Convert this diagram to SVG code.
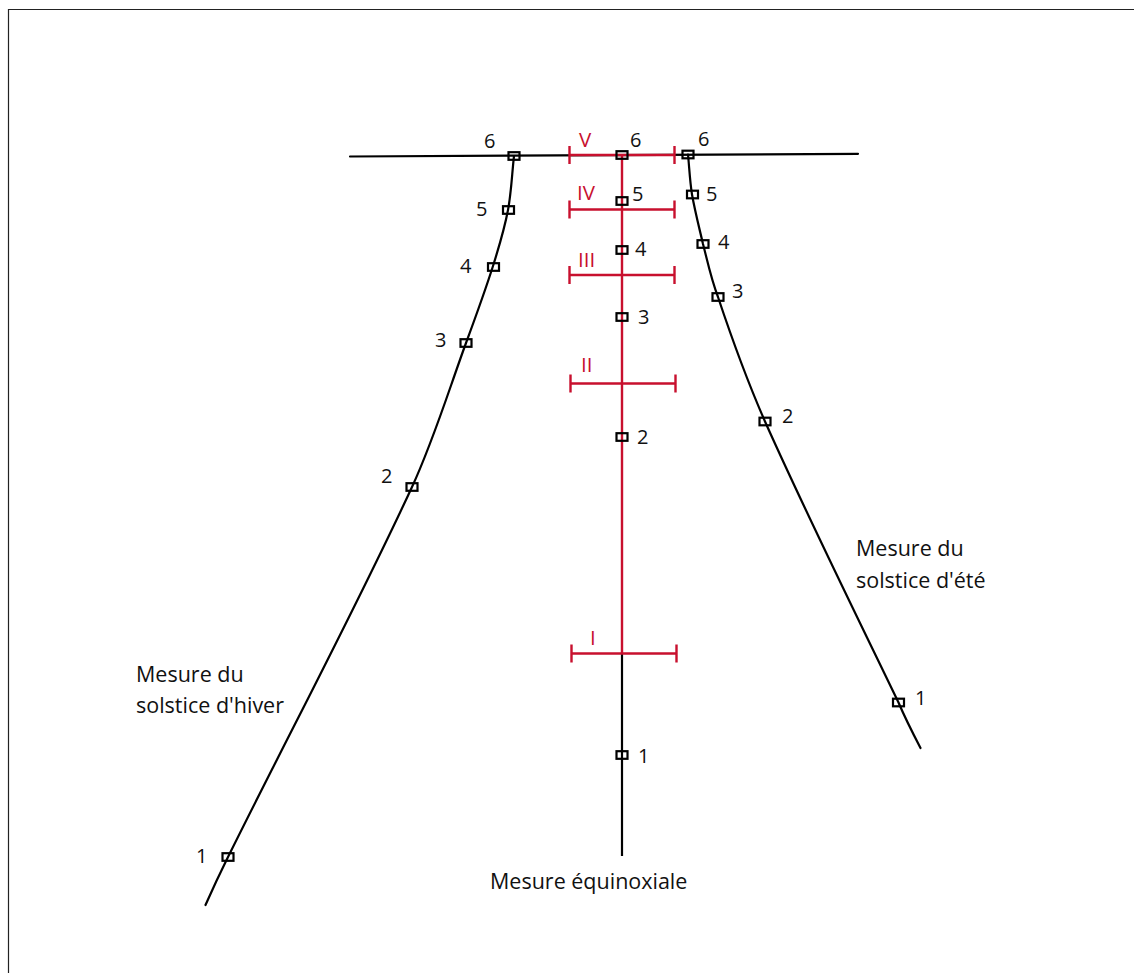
<svg xmlns="http://www.w3.org/2000/svg" width="1134" height="973" viewBox="0 0 1134 973">
<style>
.ln{fill:none;stroke:#000;stroke-width:2.2;stroke-linecap:round}
.rd{fill:none;stroke:#c8102e;stroke-width:2.4}
.sq{fill:none;stroke:#000;stroke-width:2.2}
.t{font-family:"Open Sans","Liberation Sans",sans-serif;font-size:20px;fill:#111}
.lb{font-family:"Open Sans","Liberation Sans",sans-serif;font-size:21.5px;fill:#111}
.rn{font-family:"Open Sans","Liberation Sans",sans-serif;font-size:20.5px;fill:#c8102e}
</style>
<defs>
<rect id="sq" x="-5.5" y="-3.8" width="11" height="7.6" class="sq"/>
<path id="bar" d="M-52.5,0 H52.5 M-52.5,-9 V9 M52.5,-9 V9" class="rd"/>
</defs>
<rect width="1134" height="973" fill="#fff"/>
<path d="M8.5,973 V9.5 H1134" fill="none" stroke="#222" stroke-width="1.2"/>
<g id="connectors">
<path class="ln" d="M350,156.5 L858,153.8"/>
<path class="ln" d="M514,156 C512,173.3 511.4,191.9 508,210 C504.4,229 498.8,247.6 493,266 C484.8,291.9 475.4,317.5 466,343 C448.4,391.2 433.5,440.5 412,487 C354.2,611.9 289.1,733.6 228,857 C220.1,872.9 212.6,889 205.5,905"/>
<path class="ln" d="M688,154.5 C689.3,167.3 689.8,180.8 692,194.5 C694.8,210.5 699,226.8 703,244 C707.4,260.8 711,278.7 718,297 C731.7,338.1 746.9,380.2 765,421.5 C807.2,516 853.5,609.1 898.5,702.5 C905.1,718.1 912.7,733 920.5,748"/>
<path class="rd" d="M622,155 V653.5"/>
<path class="ln" d="M622,653.5 V856" style="stroke-linecap:butt"/>
<use href="#bar" x="622" y="155"/>
<use href="#bar" x="622" y="209.5"/>
<use href="#bar" x="622" y="275"/>
<use href="#bar" x="623" y="383.5"/>
<use href="#bar" x="624" y="653.5"/>
</g>
<g id="center-nodes">
<g id="c6"><use href="#sq" x="622" y="155"/><text class="t" x="630" y="147">6</text></g>
<g id="c5"><use href="#sq" x="622" y="201"/><text class="t" x="632" y="201">5</text></g>
<g id="c4"><use href="#sq" x="622" y="250"/><text class="t" x="635" y="256">4</text></g>
<g id="c3"><use href="#sq" x="622" y="317"/><text class="t" x="638" y="324">3</text></g>
<g id="c2"><use href="#sq" x="622" y="437"/><text class="t" x="637" y="444">2</text></g>
<g id="c1"><use href="#sq" x="622" y="755"/><text class="t" x="638" y="763">1</text></g>
</g>
<g id="left-nodes">
<g id="l6"><use href="#sq" x="514" y="156"/><text class="t" x="484" y="148">6</text></g>
<g id="l5"><use href="#sq" x="508.5" y="210"/><text class="t" x="476" y="216">5</text></g>
<g id="l4"><use href="#sq" x="493.5" y="267"/><text class="t" x="460" y="273">4</text></g>
<g id="l3"><use href="#sq" x="466" y="343"/><text class="t" x="435" y="347">3</text></g>
<g id="l2"><use href="#sq" x="412" y="487"/><text class="t" x="381" y="483">2</text></g>
<g id="l1"><use href="#sq" x="228" y="857"/><text class="t" x="196" y="863">1</text></g>
</g>
<g id="right-nodes">
<g id="r6"><use href="#sq" x="688" y="154.5"/><text class="t" x="698" y="146">6</text></g>
<g id="r5"><use href="#sq" x="692.5" y="194.5"/><text class="t" x="706" y="201">5</text></g>
<g id="r4"><use href="#sq" x="703" y="244"/><text class="t" x="718" y="249">4</text></g>
<g id="r3"><use href="#sq" x="718" y="297"/><text class="t" x="732" y="298">3</text></g>
<g id="r2"><use href="#sq" x="765" y="421.5"/><text class="t" x="782" y="423">2</text></g>
<g id="r1"><use href="#sq" x="898.5" y="702.5"/><text class="t" x="915" y="705">1</text></g>
</g>
<g id="roman-labels">
<text class="rn" x="579" y="147">V</text>
<text class="rn" x="577" y="200">IV</text>
<text class="rn" x="578" y="267">III</text>
<text class="rn" x="581" y="372">II</text>
<text class="rn" x="590" y="645">I</text>
</g>
<g id="captions">
<text class="lb" x="136" y="682">Mesure du</text>
<text class="lb" x="136" y="713">solstice d'hiver</text>
<text class="lb" x="856" y="556">Mesure du</text>
<text class="lb" x="856" y="588">solstice d'été</text>
<text class="lb" x="490" y="889">Mesure équinoxiale</text>
</g>
</svg>
